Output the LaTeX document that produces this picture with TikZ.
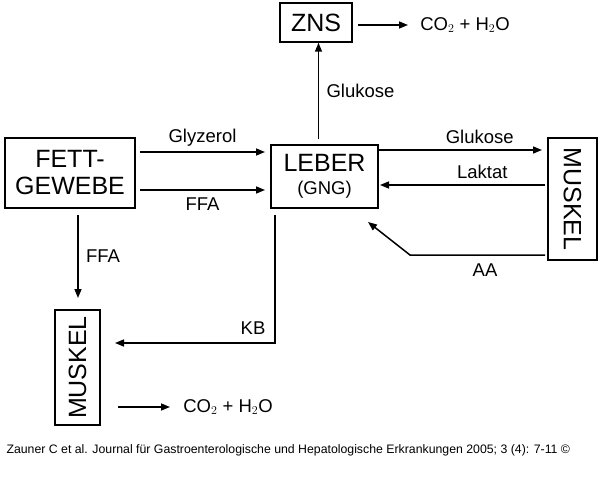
\documentclass[tikz,border=0pt]{standalone}
\usepackage{fontspec}
\setmainfont{Liberation Sans}
\usetikzlibrary{arrows.meta}
\begin{document}
\begin{tikzpicture}[x=1pt,y=-1pt,
  box/.style={draw,line width=1.5pt,inner sep=0pt,font=\fontsize{25}{27}\selectfont,align=center},
  arr/.style={line width=1.5pt,-{Triangle[length=9pt,width=7pt]}},
  lab/.style={font=\fontsize{18.5}{20}\selectfont}]
\useasboundingbox (0,0) rectangle (600,500);
\node[box,minimum width=72,minimum height=39] (zns) at (316,22.5) {ZNS};
\node[lab] (co1) at (465,25) {CO$_2$ + H$_2$O};
\node[box,minimum width=107,minimum height=63] (leber) at (324.5,176.5) {LEBER\\[-4pt]{\fontsize{18.5}{20}\selectfont (GNG)}};
\node[box,minimum width=130,minimum height=70] (fett) at (70,173) {FETT-\\GEWEBE};
\node[box,minimum width=49,minimum height=122] (mr) at (572.5,199) {};
\node[font=\fontsize{25}{27}\selectfont,rotate=-90] (mrt) at (mr) {MUSKEL};
\node[box,minimum width=45,minimum height=115] (ml) at (77.5,367.5) {};
\node[font=\fontsize{25}{27}\selectfont,rotate=90] (mlt) at (ml) {MUSKEL};
\node[lab] (co2) at (228,407) {CO$_2$ + H$_2$O};
\coordinate (a1) at (358,25); \coordinate (a2) at (408,25);
\draw[arr] (a1) -- (a2);
\draw[arr] (leber.north) ++(-6,-5) coordinate (z1) -- (z1 |- zns.south) node[pos=0.5,right=4pt,lab]{Glukose};
\draw[arr] (140,152) -- (265,152) node[midway,above=2pt,lab]{Glyzerol};
\draw[arr] (140,190) -- (265,190) node[midway,below=4pt,lab]{FFA};
\draw[arr] (378,150) -- (542,150) node[pos=0.62,above=2pt,lab]{Glukose};
\draw[arr] (545,185) -- (380,185) node[pos=0.38,above=2pt,lab]{Laktat};
\draw[arr] (545,255) -- (410,255) -- (368,222);
\node[lab] at (485,270) {AA};
\draw[arr] (78,215) -- (78,298) node[midway,right=4pt,lab]{FFA};
\draw[arr] (275,215) -- (275,343) -- (115,343);
\node[lab] at (253,328) {KB};
\coordinate (b1) at (118,407); \coordinate (b2) at (170,407);
\draw[arr] (b1) -- (b2);
\node[anchor=west,font=\fontsize{12.3}{14}\selectfont] (cap) at (3,450) {Zauner C et al. Journal für Gastroenterologische und Hepatologische Erkrankungen 2005; 3 (4): 7-11 ©};
\end{tikzpicture}
\end{document}
